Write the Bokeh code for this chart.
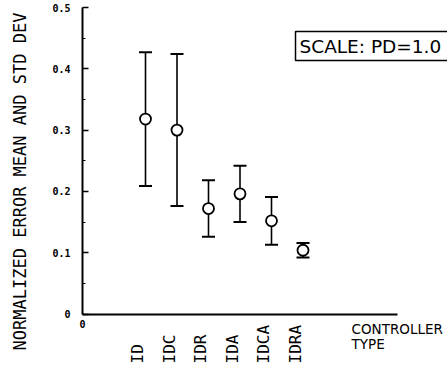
import math
from bokeh.plotting import figure
from bokeh.models import (Range1d, FixedTicker, CustomJSTickFormatter, Whisker, TeeHead,
                          ColumnDataSource, Label, LabelSet, LinearAxis)
from bokeh.core.properties import value
from bokeh.embed import file_html
from bokeh.resources import INLINE

# ---- data ----
controllers = ["ID", "IDC", "IDR", "IDA", "IDCA", "IDRA"]
positions = [2, 3, 4, 5, 6, 7]
error_mean = [0.318, 0.300, 0.172, 0.196, 0.152, 0.104]
error_std = [0.109, 0.124, 0.046, 0.046, 0.039, 0.012]
y_ticks = [0.0, 0.1, 0.2, 0.3, 0.4, 0.5]
y_minor_ticks = [0.05, 0.15, 0.25, 0.35, 0.45]

upper = [m + s for m, s in zip(error_mean, error_std)]
lower = [m - s for m, s in zip(error_mean, error_std)]
src = ColumnDataSource(dict(x=positions, mean=error_mean, upper=upper, lower=lower,
                            name=controllers))

# layout: frame covers the whole canvas; axes drawn at fixed location 0
W, H = 447, 366
X0, PXX = 82.0, 31.5      # canvas x of data x=0, px per x unit
Y0, PXY = 313.5, 613.0    # canvas y of data y=0, px per y unit

def dx(px):
    return (px - X0) / PXX

def dy(py):
    return (Y0 - py) / PXY

p = figure(width=W, height=H, output_backend="svg", toolbar_location=None,
           x_range=Range1d(dx(0), dx(W)), y_range=Range1d(dy(H), dy(0)),
           x_axis_type=None, y_axis_type=None,
           min_border=0, min_border_left=0, min_border_right=0,
           min_border_top=0, min_border_bottom=0)
p.outline_line_color = None
p.grid.visible = False
p.background_fill_color = "white"
p.border_fill_color = "white"

# y axis
ya = LinearAxis(fixed_location=0, bounds=(0, 0.5))
ya.ticker = FixedTicker(ticks=y_ticks, minor_ticks=y_minor_ticks)
ya.formatter = CustomJSTickFormatter(code="return tick == 0 ? '0' : tick.toFixed(1);")
ya.axis_line_width = 2
ya.axis_line_color = "black"
ya.major_tick_in = 6
ya.major_tick_out = 0
ya.minor_tick_in = 3
ya.minor_tick_out = 0
ya.major_tick_line_width = 1.5
ya.minor_tick_line_width = 1.2
ya.major_label_standoff = 12
ya.major_label_text_font = "DejaVu Sans Mono"
ya.major_label_text_font_style = "bold"
ya.major_label_text_font_size = "10px"
ya.major_label_text_color = "black"
p.add_layout(ya, "left")

# x axis
xa = LinearAxis(fixed_location=0, bounds=(0, 10))
xa.ticker = FixedTicker(ticks=[0])
xa.formatter = CustomJSTickFormatter(code="return '0';")
xa.axis_line_width = 2
xa.axis_line_color = "black"
xa.major_tick_in = 0
xa.major_tick_out = 0
xa.minor_tick_in = 0
xa.minor_tick_out = 0
xa.major_label_standoff = 6
xa.major_label_text_font = "DejaVu Sans Mono"
xa.major_label_text_font_style = "bold"
xa.major_label_text_font_size = "10px"
xa.major_label_text_color = "black"
p.add_layout(xa, "below")

# error bars
w = Whisker(source=src, base="x", upper="upper", lower="lower",
            line_color="black", line_width=1.6,
            upper_head=TeeHead(size=13, line_width=2, line_color="black"),
            lower_head=TeeHead(size=13, line_width=2, line_color="black"))
p.add_layout(w)

p.scatter("x", "mean", source=src, marker="circle", size=11,
          fill_color="white", line_color="black", line_width=1.8)

# category labels (rotated, bottom-aligned)
cat_labels = LabelSet(x="x", y=dy(363), text="name", source=src, angle=math.pi / 2,
                      text_align="left", text_baseline="middle", x_offset=-8,
                      text_font=value("DejaVu Sans Mono"), text_font_size="16px",
                      text_color="black")
p.add_layout(cat_labels)

# y axis title
p.add_layout(Label(x=dx(19), y=dy(181), text="NORMALIZED ERROR MEAN AND STD DEV",
                   angle=math.pi / 2, text_align="center", text_baseline="middle",
                   text_font="DejaVu Sans Mono", text_font_size="17px", text_color="black"))

# x axis title
p.add_layout(Label(x=dx(351), y=dy(320), text="CONTROLLER\nTYPE",
                   text_align="left", text_baseline="top",
                   text_font="DejaVu Sans", text_font_size="13.5px", text_color="black",
                   text_line_height=0.95))

# scale box (right side runs off the canvas, as in the reference)
p.add_layout(Label(x=dx(295), y=dy(45.5), text="SCALE: PD=1.0",
                   text_align="left", text_baseline="middle",
                   text_font="DejaVu Sans", text_font_size="18.5px", text_color="black",
                   border_line_color="black", border_line_width=1.5,
                   background_fill_color="white", padding=(4, 30, 4, 4)))

open("out.html", "w").write(file_html(p, INLINE))
